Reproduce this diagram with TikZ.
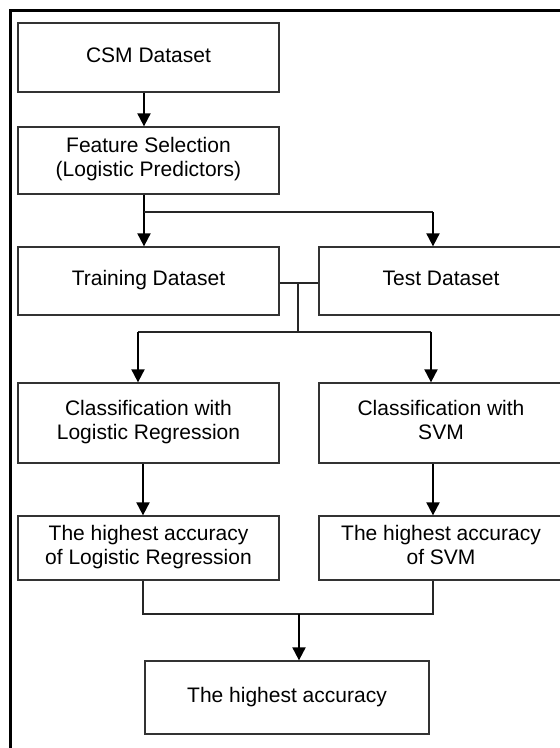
\documentclass[tikz,border=0pt]{standalone}
\usepackage{fontspec}
\setmainfont{Liberation Sans}
\usetikzlibrary{arrows.meta,positioning}

\begin{document}
\begin{tikzpicture}[x=1pt, y=-1pt,
  box/.style={rectangle, draw=black!80, line width=1.3pt, align=center, inner sep=0pt,
    minimum width=261pt, font=\fontsize{21}{24}\selectfont,
    execute at begin node=\strut, execute at end node=\strut},
  arr/.style={line width=2pt, -{Triangle[length=13pt,width=13pt]}},
  conn/.style={line width=1.3pt, draw=black!85}]
\useasboundingbox (0,0) rectangle (560,748);
\clip (0,0) rectangle (560,748);
\draw[line width=2.8pt] (10.5,10.5) rectangle (620,800);

% boxes
\node[box, minimum height=69pt] (csm) at (148.5,57.5) {CSM Dataset};
\node[box, minimum height=67pt] (feat) at (148.5,160.5) {Feature Selection\\(Logistic Predictors)};
\node[box, minimum height=68pt] (train) at (148.5,281) {Training Dataset};
\node[box, minimum height=68pt, minimum width=244pt] (test) at (441,281) {Test Dataset};
\node[box, minimum height=80pt] (clr) at (148.5,423) {Classification with\\Logistic Regression};
\node[box, minimum height=80pt, minimum width=244pt] (csvm) at (441,423) {Classification with\\SVM};
\node[box, minimum height=64pt] (hlr) at (148.5,548) {The highest accuracy\\of Logistic Regression};
\node[box, minimum height=64pt, minimum width=244pt] (hsvm) at (441,548) {The highest accuracy\\of SVM};
\node[box, minimum height=73pt, minimum width=284pt] (best) at (287,697.5) {The highest accuracy};

% junctions
\coordinate (fork) at (144,212);
\coordinate (forkR) at (433,212);
\coordinate (mid) at (298,283);
\coordinate (midlow) at (298,332);
\coordinate (splitL) at (138,332);
\coordinate (splitR) at (431,332);
\coordinate (joinL) at (143,614);
\coordinate (joinR) at (433,614);
\coordinate (joinM) at (299,614);

% connectors
\draw[arr] (csm.south -| fork) -- (feat.north -| fork);
\draw[arr] (feat.south -| fork) -- (train.north -| fork);
\draw[conn] (fork) -- (forkR);
\draw[arr] (forkR) -- (test.north -| forkR);
\draw[conn] (train.east |- mid) -- (test.west |- mid);
\draw[conn] (mid) -- (midlow);
\draw[conn] (splitL) -- (splitR);
\draw[arr] (splitL) -- (clr.north -| splitL);
\draw[arr] (splitR) -- (csvm.north -| splitR);
\draw[arr] (clr.south -| joinL) -- (hlr.north -| joinL);
\draw[arr] (csvm.south -| joinR) -- (hsvm.north -| joinR);
\draw[conn] (hlr.south -| joinL) -- (joinL) -- (joinR) -- (hsvm.south -| joinR);
\draw[arr] (joinM) -- (best.north -| joinM);
\end{tikzpicture}
\end{document}
